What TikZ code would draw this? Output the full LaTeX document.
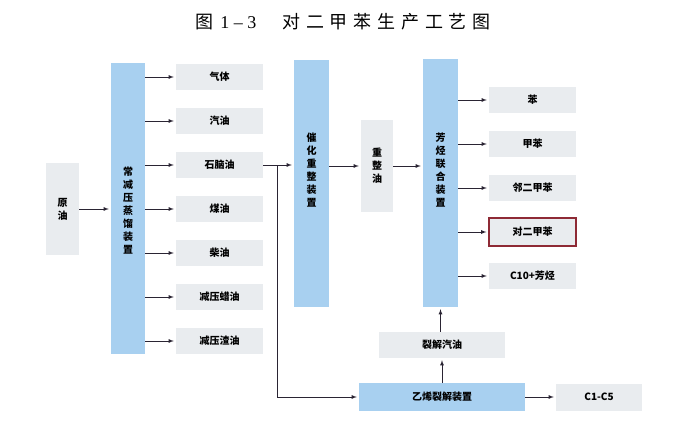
\documentclass[tikz,border=0pt]{standalone}
\usepackage{fontspec}
\setmainfont{Liberation Serif}
\newfontfamily\cjk{Noto Sans CJK SC}
\newfontfamily\cjktitle[LetterSpace=32]{Noto Sans CJK SC}
\usetikzlibrary{arrows}
\definecolor{unitblue}{HTML}{A8D0F0}
\definecolor{prodgray}{HTML}{E9ECEF}
\definecolor{linedark}{HTML}{2A2433}
\definecolor{markred}{HTML}{8E2A35}

\begin{document}
\begin{tikzpicture}[x=1pt,y=-1pt,
    unit/.style={fill=unitblue,draw=none,inner sep=0pt},
    prod/.style={fill=prodgray,draw=none,inner sep=0pt,align=center,font=\cjk\bfseries\fontsize{10}{13}\selectfont},
    vlabel/.style={align=center,inner sep=0pt,font=\cjk\bfseries\fontsize{10}{13}\selectfont},
    flow/.style={->,>=latex,draw=linedark,line width=0.8pt,shorten >=2pt}]
  \useasboundingbox (0,0) rectangle (698,444);
  % title
  \node (title) at (343,22) {\fontsize{18}{20}\selectfont\cjk 图\hspace{7pt}\rmfamily 1 -- 3\hspace{26pt}\cjktitle 对二甲苯生产工艺图};
  % crude oil and distillation
  \node[prod,minimum width=33,minimum height=92] (crude) at (62.5,209) {原\\油};
  \node[unit,minimum width=34,minimum height=291] (cdu) at (128,208.5) {};
  \node[vlabel] (cdutxt) at (128,211) {常\\减\\压\\蒸\\馏\\装\\置};
  \node[prod,minimum width=87,minimum height=26] (gas) at (219.5,77) {气体};
  \node[prod,minimum width=87,minimum height=26] (gasoline) at (219.5,121) {汽油};
  \node[prod,minimum width=87,minimum height=26] (naph) at (219.5,165) {石脑油};
  \node[prod,minimum width=87,minimum height=26] (kero) at (219.5,209) {煤油};
  \node[prod,minimum width=87,minimum height=26] (diesel) at (219.5,253) {柴油};
  \node[prod,minimum width=87,minimum height=26] (vgo) at (219.5,297) {减压蜡油};
  \node[prod,minimum width=87,minimum height=26] (vr) at (219.5,341) {减压渣油};
  % reforming
  \node[unit,minimum width=35,minimum height=247] (reform) at (311.5,183.5) {};
  \node[vlabel] (reformtxt) at (311.5,170) {催\\化\\重\\整\\装\\置};
  \node[prod,minimum width=32,minimum height=92] (reformate) at (377,166) {重\\整\\油};
  % aromatics complex
  \node[unit,minimum width=35,minimum height=248] (arom) at (440.5,183) {};
  \node[vlabel] (aromtxt) at (440.5,170) {芳\\烃\\联\\合\\装\\置};
  \node[prod,minimum width=87,minimum height=26] (bz) at (532.5,100) {苯};
  \node[prod,minimum width=87,minimum height=26] (tol) at (532.5,144) {甲苯};
  \node[prod,minimum width=87,minimum height=26] (ox) at (532.5,188) {邻二甲苯};
  \node[prod,minimum width=87,minimum height=28,draw=markred,line width=1.2pt] (px) at (532.5,232) {对二甲苯};
  \node[prod,minimum width=87,minimum height=26] (c10) at (532.5,276) {C10+芳烃};
  % ethylene cracker
  \node[prod,minimum width=126,minimum height=26] (pygas) at (442,345) {裂解汽油};
  \node[unit,minimum width=166,minimum height=28,font=\cjk\bfseries\fontsize{10}{12}\selectfont] (cracker) at (442,397) {乙烯裂解装置};
  \node[prod,minimum width=86,minimum height=27] (light) at (599,397) {C1-C5};
  % connectors
  \draw[flow] (crude.east) -- (crude.east -| cdu.west);
  \foreach \p in {gas,gasoline,naph,kero,diesel,vgo,vr}
    \draw[flow] (\p.west -| cdu.east) -- (\p.west);
  \draw[flow] (naph.east) -- (naph.east -| reform.west);
  \coordinate (split) at (277,165);
  \draw[flow] (split) |- (cracker.west);
  \draw[flow] (reformate.west -| reform.east) -- (reformate.west);
  \draw[flow] (reformate.east) -- (reformate.east -| arom.west);
  \foreach \p in {bz,tol,ox,px,c10}
    \draw[flow] (\p.west -| arom.east) -- (\p.west);
  \draw[flow] (pygas.north -| arom.south) -- (arom.south);
  \draw[flow] (cracker.north) -- (pygas.south);
  \draw[flow] (cracker.east) -- (light.west);
\end{tikzpicture}
\end{document}
